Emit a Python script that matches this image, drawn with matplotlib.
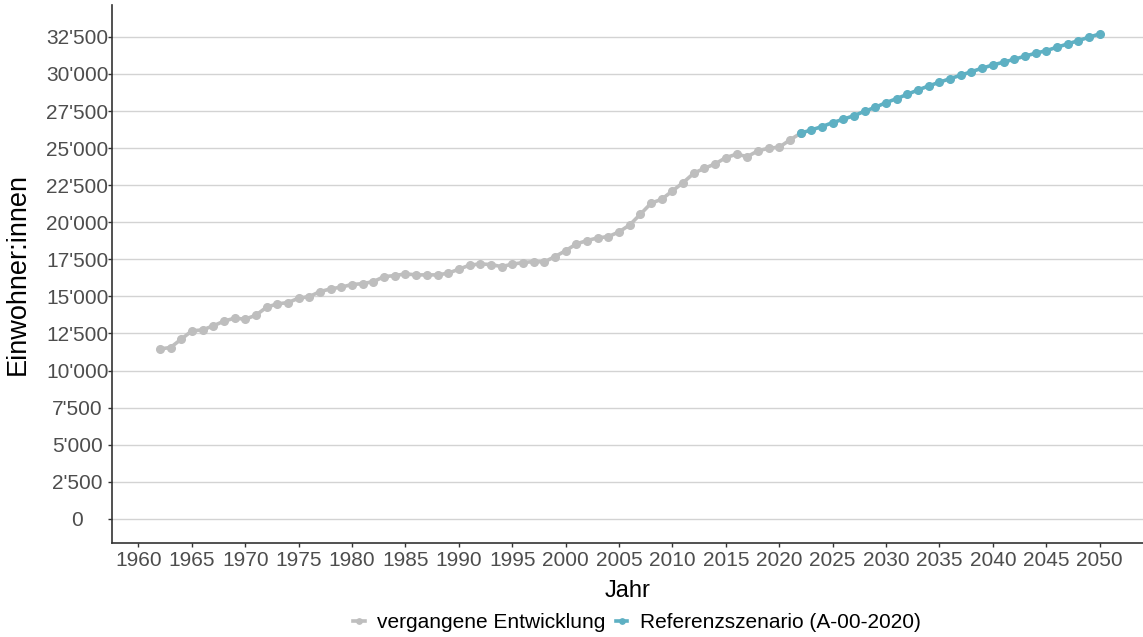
import matplotlib
matplotlib.use("Agg")
import matplotlib.pyplot as plt
from matplotlib.ticker import FuncFormatter

# past development 1962-2022 (2022 repeated so the grey line meets the scenario)
past_years = list(range(1962, 2023))
past_values = [
    11461, 11550, 12115, 12675, 12742, 13012, 13329, 13531, 13464, 13733,
    14273, 14495, 14583, 14880, 14988, 15325, 15507, 15630, 15800, 15860,
    15998, 16335, 16402, 16517, 16450, 16450, 16450, 16565, 16835, 17104,
    17192, 17145, 17010, 17172, 17280, 17347, 17327, 17684, 18080, 18540,
    18763, 18945, 19033, 19350, 19822, 20543, 21284, 21554, 22114, 22673,
    23307, 23644, 23934, 24359, 24588, 24426, 24811, 24993, 25060, 25550,
    26003,
]

# reference scenario A-00-2020, 2022-2050
scen_years = list(range(2022, 2051))
scen_values = [
    26003, 26226, 26450, 26720, 26945, 27190, 27484, 27754, 28067, 28337,
    28630, 28923, 29193, 29442, 29686, 29915, 30157, 30386, 30609, 30790,
    30992, 31195, 31397, 31572, 31801, 32023, 32246, 32476, 32698,
]

x_ticks = list(range(1960, 2051, 5))
y_ticks = list(range(0, 32501, 2500))

plt.rcParams["font.family"] = ["Liberation Sans", "DejaVu Sans"]

W, H = 1143, 637
fig = plt.figure(figsize=(W / 100, H / 100), dpi=100)
ax = fig.add_axes([112 / W, 1 - 543 / H, 1031 / W, 538 / H])

grey = "#bebebe"
blue = "#5eb0c3"

ax.plot(past_years, past_values, color=grey, lw=2.6, marker="o", ms=5.5,
        label="vergangene Entwicklung", zorder=3)
ax.plot(scen_years, scen_values, color=blue, lw=2.6, marker="o", ms=5.5,
        label="Referenzszenario (A-00-2020)", zorder=4)

ax.set_xlim(1957.52, 2054.06)
ax.set_ylim(-1630, 34650)
ax.set_xticks(x_ticks)
ax.set_yticks(y_ticks)
ax.yaxis.set_major_formatter(FuncFormatter(lambda v, p: f"{int(v):,}".replace(",", "'")))

ax.grid(axis="y", color="#d3d3d3", lw=1.0, zorder=0)
ax.set_axisbelow(True)
for side in ["top", "right"]:
    ax.spines[side].set_visible(False)
for side in ["left", "bottom"]:
    ax.spines[side].set_color("#333333")
    ax.spines[side].set_linewidth(1.2)

ax.tick_params(axis="both", colors="#333333", length=3, width=1.0,
               labelsize=15, labelcolor="#4d4d4d")
# y labels are centred in the margin, like in the original
ax.tick_params(axis="y", pad=22)
for lab in ax.get_yticklabels():
    lab.set_ha("center")
ax.tick_params(axis="x", pad=2.5)

ax.set_xlabel("Jahr", fontsize=17, color="black")
ax.set_ylabel("Einwohner:innen", fontsize=19.5, color="black")
ax.xaxis.label.set_va("center")
ax.yaxis.label.set_va("center")
ax.xaxis.set_label_coords(0.5, (543 - 591) / 538)
ax.yaxis.set_label_coords((18 - 112) / 1031, 0.5)

fig.legend(loc="center", bbox_to_anchor=(637 / W, 1 - 623 / H), ncol=2, frameon=False,
           fontsize=15, handlelength=0.55, columnspacing=0.5, handletextpad=0.6,
           markerscale=0.7)

fig.savefig("out.png", dpi=100)
